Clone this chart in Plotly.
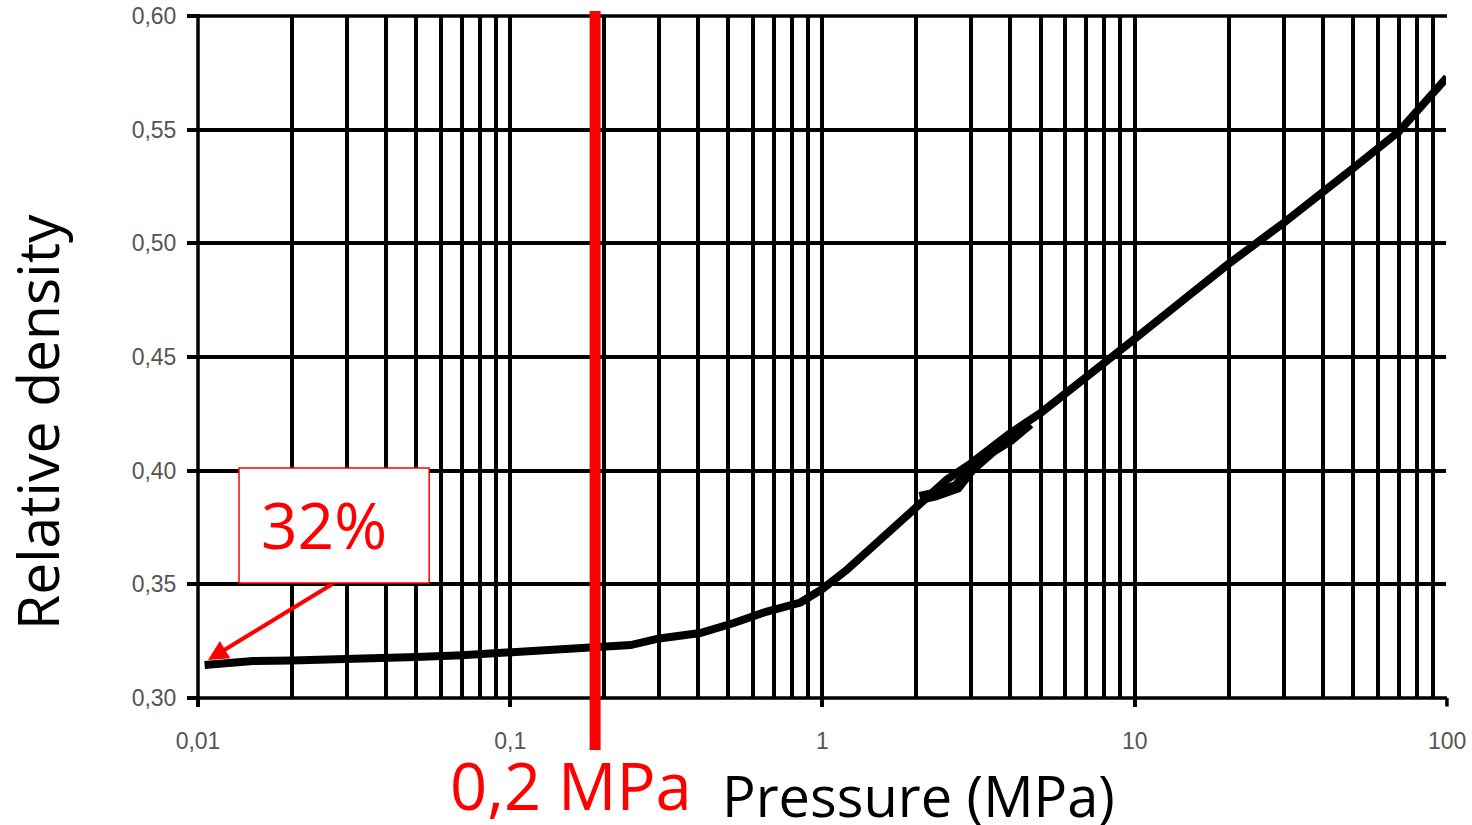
import plotly.graph_objects as go

# ---- data ----
pressure = [0.0105, 0.012, 0.015, 0.02, 0.03, 0.05, 0.07, 0.1, 0.15, 0.2, 0.243, 0.3,
            0.406, 0.52, 0.66, 0.85, 1.0, 1.2, 1.5, 2.0, 2.5, 3.0, 4.0, 5.0, 7.0, 10,
            15, 20, 30, 40, 50, 70, 100]
density = [0.3145, 0.3155, 0.3163, 0.3165, 0.3168, 0.3180, 0.3188, 0.3203, 0.3215, 0.3225,
           0.3233, 0.3262, 0.3286, 0.3330, 0.3379, 0.3420, 0.3480, 0.3565, 0.3685, 0.3830,
           0.3960, 0.4034, 0.4166, 0.4254, 0.4408, 0.4580, 0.4773, 0.4910, 0.5090, 0.5220,
           0.5330, 0.5490, 0.5730]

# scatter band of the measurement around 2-5 MPa
noise_pressure = [2.05, 2.3, 2.7, 3.0, 3.5, 4.0, 4.6]
noise_density = [0.3880, 0.3895, 0.3930, 0.4010, 0.4090, 0.4140, 0.4210]

marker_pressure = 0.187          # red vertical marker (labelled 0,2 MPa)
marker_label = "0,2 MPa"
start_label = "32%"
start_point = (0.01077, 0.3167)
label_box = dict(x0=0.01353, x1=0.0550, y0=0.3506, y1=0.4012)

x_tickvals = [0.01, 0.1, 1, 10]
x_ticktext = ["0,01", "0,1", "1", "10"]
x_last_tick = "100"     # range end label (drawn separately: no grid line at the right edge)
y_tickvals = [0.30, 0.35, 0.40, 0.45, 0.50, 0.55, 0.60]
y_ticktext = ["0,30", "0,35", "0,40", "0,45", "0,50", "0,55", "0,60"]

X_RANGE = [-2, 1.997]
end_frac = (2 - X_RANGE[0]) / (X_RANGE[1] - X_RANGE[0])   # paper position of 100

fig = go.Figure()
fig.add_trace(go.Scatter(x=pressure, y=density, mode="lines",
                         line=dict(color="black", width=8),
                         showlegend=False, cliponaxis=False))
fig.add_trace(go.Scatter(x=noise_pressure, y=noise_density, mode="lines",
                         line=dict(color="black", width=12),
                         showlegend=False))

tick_font = dict(family="Liberation Sans", size=23, color="#555")
frame = dict(color="black", width=3.5)

fig.update_layout(
    width=1472, height=825,
    margin=dict(l=198, r=26, t=16, b=127, autoexpand=False),
    paper_bgcolor="white", plot_bgcolor="white",
    xaxis=dict(type="log", range=X_RANGE, tickvals=x_tickvals, ticktext=x_ticktext,
               showgrid=True, gridcolor="black", gridwidth=3.5,
               ticks="outside", ticklen=8, tickwidth=3.5, tickcolor="black",
               tickfont=tick_font, ticklabelstandoff=14,
               minor=dict(dtick="D1", showgrid=True, gridcolor="black", gridwidth=3.5, ticks=""),
               showline=False, zeroline=False),
    yaxis=dict(range=[0.30, 0.60], tickvals=y_tickvals, ticktext=y_ticktext,
               showgrid=True, gridcolor="black", gridwidth=3.5,
               ticks="outside", ticklen=10, tickwidth=3.5, tickcolor="black",
               tickfont=tick_font, ticklabelstandoff=6,
               showline=False, zeroline=False),
    shapes=[
        # frame: left, bottom and top only (no right-hand line in the reference)
        dict(type="line", xref="paper", yref="paper", x0=0, x1=0, y0=-0.003, y1=1.003,
             line=frame, layer="between"),
        dict(type="line", xref="paper", yref="paper", x0=-0.003, x1=end_frac, y0=0, y1=0,
             line=frame, layer="between"),
        dict(type="line", xref="paper", yref="paper", x0=-0.003, x1=end_frac, y0=1, y1=1,
             line=frame, layer="between"),
        # tick mark at 100
        dict(type="line", xref="paper", yref="paper", x0=end_frac, x1=end_frac,
             y0=0, y1=-0.0125, line=frame, layer="between"),
        dict(type="line", xref="x", yref="paper",
             x0=marker_pressure, x1=marker_pressure, y0=-0.0762, y1=1.0073,
             line=dict(color="#ff0000", width=11), layer="above"),
        dict(type="rect", xref="x", yref="y", layer="above",
             fillcolor="white", line=dict(color="#ff0000", width=1.5), **label_box),
    ],
    annotations=[
        dict(x=end_frac, y=-0.0635, xref="paper", yref="paper", text=x_last_tick,
             showarrow=False, xanchor="center", yanchor="middle", font=tick_font),
        dict(x=-1.968, y=start_point[1], xref="x", yref="y", text="",
             showarrow=True, arrowhead=2, arrowsize=1, arrowwidth=4, arrowcolor="#ff0000",
             ax=126, ay=-77, axref="pixel", ayref="pixel"),
        dict(x=-1.596, y=0.3763, xref="x", yref="y", text=start_label,
             showarrow=False, xanchor="center", yanchor="middle",
             font=dict(family="Open Sans", size=64, color="#ff0000")),
        dict(x=0.299, y=-0.128, xref="paper", yref="paper", text=marker_label,
             showarrow=False, xanchor="center", yanchor="middle",
             font=dict(family="Open Sans", size=65, color="#ff0000")),
        dict(x=0.5773, y=-0.142, xref="paper", yref="paper", text="Pressure (MPa)",
             showarrow=False, xanchor="center", yanchor="middle",
             font=dict(family="Open Sans", size=56, color="black")),
        dict(x=-0.129, y=0.4047, xref="paper", yref="paper", text="Relative density",
             showarrow=False, xanchor="center", yanchor="middle", textangle=-90,
             font=dict(family="Open Sans", size=57, color="black")),
    ],
)

fig.write_html("out.html")
